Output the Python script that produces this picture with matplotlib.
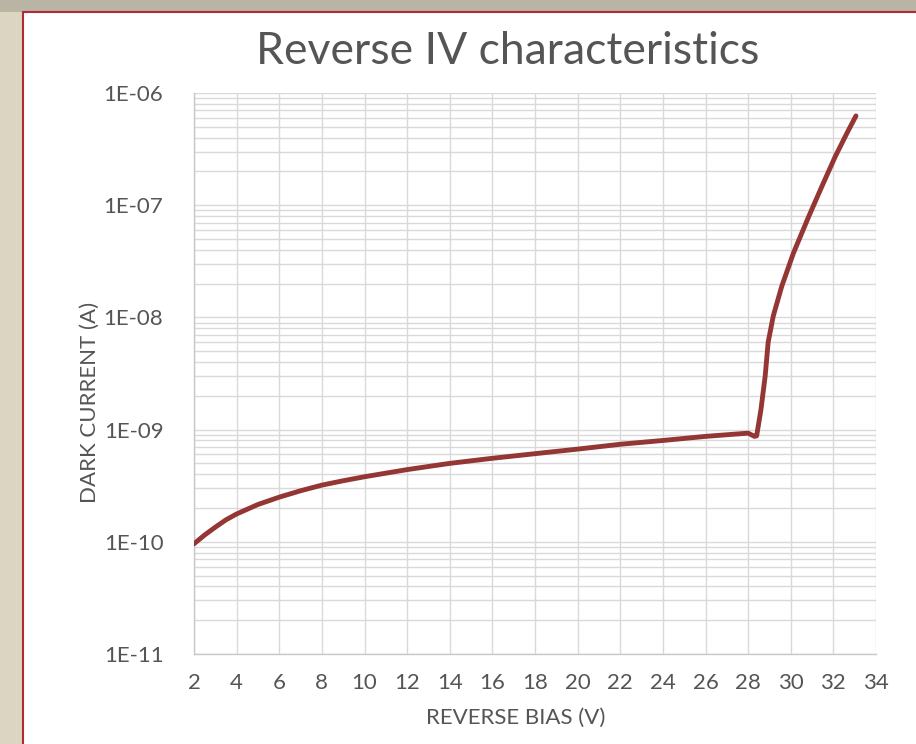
import matplotlib
matplotlib.use('Agg')
import matplotlib.pyplot as plt
from matplotlib.patches import Rectangle
from matplotlib.ticker import FixedLocator, LogLocator, NullFormatter

# reverse bias (V) and dark current (A)
bias_v = [2, 2.5, 3, 3.5, 4, 5, 6, 7, 8, 9, 10, 12, 14, 16, 18, 20, 22, 24, 26, 28, 28.3,
          28.4, 28.6, 28.8, 28.94, 29.18, 29.58, 30.13, 30.84, 31.46, 32.09, 32.64, 33.06]
dark_current = [9.6e-11, 1.15e-10, 1.35e-10, 1.57e-10, 1.77e-10, 2.15e-10, 2.5e-10,
                2.85e-10, 3.2e-10, 3.5e-10, 3.8e-10, 4.4e-10, 5.0e-10, 5.55e-10,
                6.1e-10, 6.7e-10, 7.4e-10, 8.0e-10, 8.7e-10, 9.3e-10, 8.7e-10,
                8.8e-10, 1.5e-9, 3.0e-9, 6.0e-9, 1.03e-8, 1.9e-8, 3.76e-8, 7.9e-8,
                1.47e-7, 2.72e-7, 4.4e-7, 6.25e-7]

x_ticks = list(range(2, 35, 2))
y_ticks = [1e-11, 1e-10, 1e-9, 1e-8, 1e-7, 1e-6]
y_tick_labels = ['1E-11', '1E-10', '1E-09', '1E-08', '1E-07', '1E-06']

TEXT_COLOR = '#555555'
GRID_COLOR = '#d9d9d9'
LINE_COLOR = '#943634'

plt.rcParams['font.family'] = ['Lato', 'DejaVu Sans']

fig = plt.figure(figsize=(9.16, 7.44), dpi=100, facecolor='#b9b4a4')

# slide-like background: beige strip on the left, white panel with red border
fig.patches.append(Rectangle((0, 0), 23 / 916, 1 - 12 / 744, transform=fig.transFigure,
                             facecolor='#dcd5c2', edgecolor='none', zorder=-3))
fig.patches.append(Rectangle((23 / 916, -0.01), 1.0, 1 - 12 / 744 + 0.01,
                             transform=fig.transFigure, facecolor='white',
                             edgecolor='#b02a35', linewidth=1.5, zorder=-2))

ax = fig.add_axes([194 / 916, 90 / 744, (876 - 194) / 916, (654 - 93) / 744])
ax.set_facecolor('white')
ax.plot(bias_v, dark_current, color=LINE_COLOR, linewidth=3.5,
        solid_joinstyle='round', solid_capstyle='round', zorder=3)

ax.set_yscale('log')
ax.set_xlim(2, 34)
ax.set_ylim(1e-11, 1e-6)
ax.xaxis.set_major_locator(FixedLocator(x_ticks))
ax.set_xticklabels([str(t) for t in x_ticks])
ax.yaxis.set_major_locator(FixedLocator(y_ticks))
ax.set_yticklabels(y_tick_labels)
ax.yaxis.set_minor_locator(LogLocator(base=10, subs=range(2, 10), numticks=20))
ax.yaxis.set_minor_formatter(NullFormatter())

ax.grid(True, which='major', color=GRID_COLOR, linewidth=1.0)
ax.grid(True, which='minor', axis='y', color=GRID_COLOR, linewidth=1.0)
ax.set_axisbelow(True)
for side in ['top', 'right']:
    ax.spines[side].set_visible(False)
for side in ['left', 'bottom']:
    ax.spines[side].set_color('#c8c8c8')
    ax.spines[side].set_linewidth(1.0)

ax.tick_params(which='both', length=0, colors=TEXT_COLOR, labelsize=16)
ax.tick_params(axis='x', pad=14)
ax.tick_params(axis='y', pad=22)

fig.text(508 / 916, 1 - 52 / 744, 'Reverse IV characteristics', ha='center', va='center',
         fontsize=32, color=TEXT_COLOR)
fig.text(516 / 916, 1 - 718 / 744, 'REVERSE BIAS (V)', ha='center', va='center',
         fontsize=16, color=TEXT_COLOR)
fig.text(90 / 916, 1 - 402 / 744, 'DARK CURRENT (A)', ha='center', va='center',
         rotation=90, fontsize=16, color=TEXT_COLOR)

fig.savefig('out.png', dpi=100, facecolor=fig.get_facecolor())
